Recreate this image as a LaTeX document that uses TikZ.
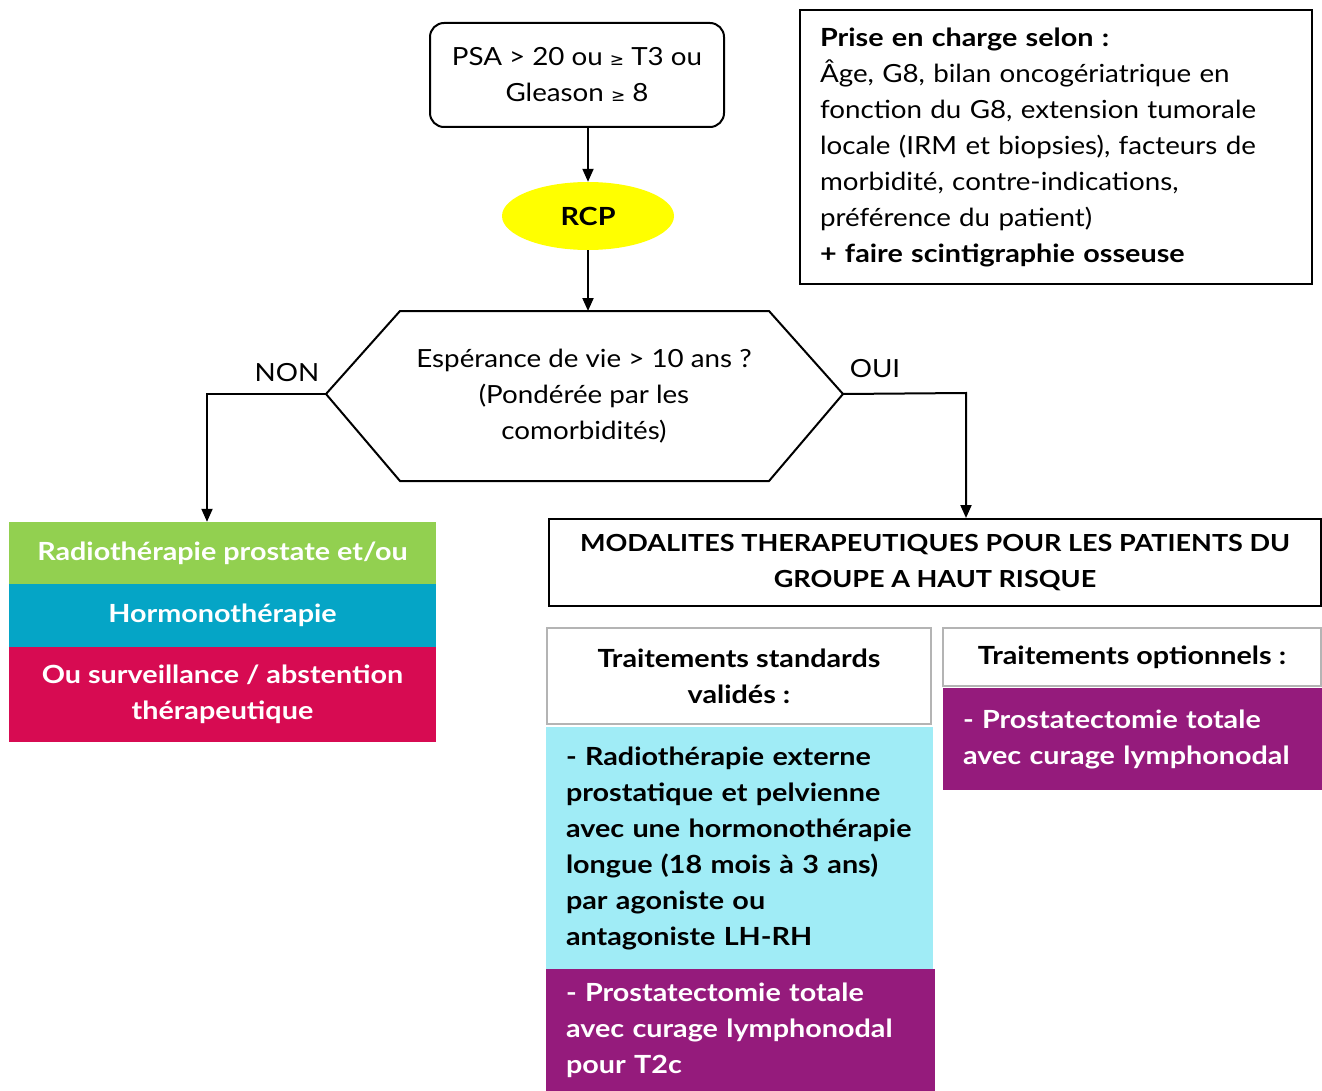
\documentclass[tikz,border=0pt]{standalone}
\usepackage{fontspec}
\setmainfont{Lato}[FakeStretch=1.11,BoldFeatures={FakeStretch=1.15}]
\newfontfamily\symf{DejaVu Sans}
\usetikzlibrary{arrows.meta,shapes.geometric}
\definecolor{cgreen}{HTML}{92D050}
\definecolor{cblue}{HTML}{05A5C6}
\definecolor{cred}{HTML}{D70B52}
\definecolor{cpurple}{HTML}{951B7C}
\definecolor{ccyan}{HTML}{A0ECF6}
\definecolor{cgray}{HTML}{B4B4B4}
\definecolor{cyel}{HTML}{FFFF00}
\begin{document}
\begin{tikzpicture}[x=1pt,y=-1pt,
  txt/.style={font=\fontsize{25}{36}\selectfont},
  btxt/.style={font=\fontsize{25}{36}\selectfont\bfseries},
  line/.style={line width=2pt,draw=black},
  arr/.style={line width=2pt,-{Triangle[length=13pt,width=11pt]}},
  blackbox/.style={draw=black,line width=2pt,inner sep=0pt},
  graybox/.style={draw=cgray,line width=2pt,inner sep=0pt,btxt,align=center},
  colbox/.style={inner sep=0pt,btxt,text=white,align=center},
  listbox/.style={inner xsep=20pt,inner ysep=0pt,btxt,align=left}]
\useasboundingbox (0,0) rectangle (1322,1091);
\fill[white] (0,0) rectangle (1322,1091);

% top
\node[blackbox,txt,rounded corners=14pt,minimum width=294pt,minimum height=104pt,align=center] (psa) at (577,75)
  {PSA > 20 ou {\symf\fontsize{17}{36}\selectfont ≥} T3 ou\\Gleason {\symf\fontsize{17}{36}\selectfont ≥} 8};
\node[ellipse,fill=cyel,minimum width=172pt,minimum height=68pt,inner sep=0pt,btxt] (rcp) at (588,216) {RCP};

\node[blackbox,txt,minimum width=512pt,minimum height=274pt,text width=472pt,inner xsep=20pt,align=left,anchor=north west] (info) at (799,9)
  {\textbf{Prise en charge selon :}\\
   Âge, G8, bilan oncogériatrique en\\
   fonction du G8, extension tumorale\\
   locale (IRM et biopsies), facteurs de\\
   morbidité, contre-indications,\\
   préférence du patient)\\
   \textbf{+ faire scintigraphie osseuse}};

% hexagon
\coordinate (hT) at (588,311);
\coordinate (hL) at (326,394);
\coordinate (hR) at (843,394);
\draw[line,line join=miter] (400,311) -- (769,311) -- (hR) -- (769,481) -- (400,481) -- (hL) -- cycle;
\node[txt,align=center] (q) at (584,396) {Espérance de vie > 10 ans ?\\(Pondérée par les\\comorbidités)};
\node[txt] (non) at (287,373) {NON};
\node[txt] (oui) at (875,369) {OUI};

% left stack
\node[colbox,fill=cgreen,minimum width=427pt,minimum height=62pt] (green) at (222.5,553) {Radiothérapie prostate et/ou};
\node[colbox,fill=cblue,minimum width=427pt,minimum height=63pt] (blue) at (222.5,615.5) {Hormonothérapie};
\node[colbox,fill=cred,minimum width=427pt,minimum height=95pt] (red) at (222.5,694.5) {Ou surveillance / abstention\\thérapeutique};

% right
\node[blackbox,font=\fontsize{23.5}{36}\selectfont\bfseries,align=center,minimum width=772pt,minimum height=87pt] (mod) at (935,562.5)
  {MODALITES THERAPEUTIQUES POUR LES PATIENTS DU\\GROUPE A HAUT RISQUE};
\node[graybox,minimum width=384pt,minimum height=96pt] (std) at (739,676) {Traitements standards\\validés :};
\node[graybox,minimum width=378pt,minimum height=58pt] (opt) at (1132,657) {Traitements optionnels :};
\node[listbox,fill=cpurple,text=white,minimum width=379pt,minimum height=102pt,text width=339pt] (popt) at (1132.5,739)
  {- Prostatectomie totale\\avec curage lymphonodal};
\node[listbox,fill=ccyan,text=black,minimum width=387pt,minimum height=242pt,text width=347pt] (cyan) at (739.5,848)
  {- Radiothérapie externe\\prostatique et pelvienne\\avec une hormonothérapie\\longue (18 mois à 3 ans)\\par agoniste ou\\antagoniste LH-RH};
\node[listbox,fill=cpurple,text=white,minimum width=389pt,minimum height=122pt,text width=349pt] (pstd) at (740.5,1030)
  {- Prostatectomie totale\\avec curage lymphonodal\\pour T2c};

% connectors
\draw[arr] (psa.south -| rcp.north) -- (rcp.north);
\draw[arr] (rcp.south) -- (hT);
\coordinate (nonc) at (207,394);
\draw[arr] (hL) -- (nonc) -- (nonc |- green.north);
\coordinate (ouic) at (966,393);
\draw[arr] (hR) -- (ouic) -- (ouic |- mod.north);
\end{tikzpicture}
\end{document}
